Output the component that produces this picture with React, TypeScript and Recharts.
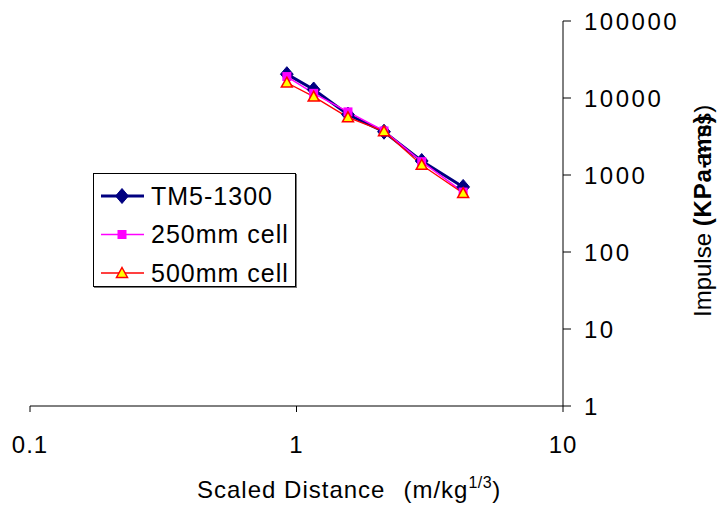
import React from "react";
import { ComposedChart, Line, XAxis, YAxis, Legend } from "recharts";

// scaled distance (m/kg^1/3), shared by all three series
const distance = [0.92, 1.16, 1.56, 2.13, 2.95, 4.22];
const tm5 = [20400, 12900, 6100, 3650, 1520, 700];
const cell250 = [19000, 11500, 6600, 3730, 1490, 600];
const cell500 = [15800, 10400, 5600, 3690, 1350, 580];

const xTicks = [0.1, 1, 10];
const yTicks = [1, 10, 100, 1000, 10000, 100000];

const seriesNames = ["TM5-1300", "250mm cell", "500mm cell"];

const FONT = "'Liberation Sans', Arial, sans-serif";

const data = distance.map((x, i) => ({
  x,
  tm5: tm5[i],
  c250: cell250[i],
  c500: cell500[i],
}));

function Diamond({ cx, cy, size = 7.5 }: { cx: number; cy: number; size?: number }) {
  return (
    <path
      d={`M${cx},${cy - size} L${cx + size * 0.85},${cy} L${cx},${cy + size} L${cx - size * 0.85},${cy} Z`}
      fill="#000080"
      stroke="#000080"
    />
  );
}

function Square({ cx, cy, size = 4.5 }: { cx: number; cy: number; size?: number }) {
  return (
    <rect x={cx - size} y={cy - size} width={size * 2} height={size * 2} fill="#ff00ff" stroke="none" />
  );
}

function Triangle({ cx, cy, size = 5.5 }: { cx: number; cy: number; size?: number }) {
  return (
    <path
      d={`M${cx},${cy - size} L${cx + size},${cy + size * 0.8} L${cx - size},${cy + size * 0.8} Z`}
      fill="#ffff00"
      stroke="#ff0000"
      strokeWidth={1.5}
    />
  );
}

const XTick = ({ x, y, payload }: any) => (
  <text x={x} y={y} dy="0.71em" textAnchor="middle" fontFamily={FONT} fontSize={24} letterSpacing={1} fill="#000">
    {payload.value}
  </text>
);

const YTick = ({ x, y, payload }: any) => (
  <text x={x} y={y} dy="0.355em" textAnchor="start" fontFamily={FONT} fontSize={24} letterSpacing={2.5} fill="#000">
    {payload.value}
  </text>
);

const XLabel = () => (
  <text x={197} y={498} textAnchor="start" fontFamily={FONT} fontSize={24} letterSpacing={1} fill="#000">
    Scaled Distance
    <tspan dx={18}>(m/kg</tspan>
    <tspan dy={-10} fontSize={16} letterSpacing={0.5}>1/3</tspan>
    <tspan dy={10}>)</tspan>
  </text>
);

// the bold units overlap a second copy, as in the source picture
const YLabel = () => (
  <g fontFamily={FONT} fill="#000">
    <text transform="translate(702,317) rotate(-90)" dominantBaseline="central" fontSize={24}>
      Impulse <tspan fontWeight="bold" letterSpacing={0.8}>(KPa-ms)</tspan>
    </text>
    <text transform="translate(702,166) rotate(-90)" dominantBaseline="central" fontSize={24}>
      a-ms)
    </text>
  </g>
);

const markers = [
  (cx: number, cy: number) => <Diamond cx={cx} cy={cy} />,
  (cx: number, cy: number) => <Square cx={cx} cy={cy} />,
  (cx: number, cy: number) => <Triangle cx={cx} cy={cy} />,
];
const lineColors = ["#000080", "#ff00ff", "#ff0000"];

const LegendBox = () => (
  <div
    style={{
      width: 201,
      height: 112,
      border: "1px solid #000",
      boxShadow: "1px 1px 0 #777",
      background: "#fff",
    }}
  >
    <svg width={201} height={112}>
      {seriesNames.map((name, i) => {
        const cy = 22 + i * 38.5;
        return (
          <g key={name}>
            <line x1={7} x2={50} y1={cy} y2={cy} stroke={lineColors[i]} strokeWidth={i === 0 ? 3 : 1.5} />
            {markers[i](28, cy)}
            <text x={57} y={cy} dy="0.355em" fontFamily={FONT} fontSize={25} letterSpacing={1} fill="#000">
              {name}
            </text>
          </g>
        );
      })}
    </svg>
  </div>
);

export default function App() {
  return (
    <div style={{ position: "absolute", left: 0, top: 0, background: "#fff" }}>
      <ComposedChart
        width={720}
        height={513}
        data={data}
        margin={{ top: 21, right: 0, left: 30, bottom: 0 }}
      >
        <XAxis
          dataKey="x"
          type="number"
          scale="log"
          domain={[0.1, 10]}
          ticks={xTicks}
          allowDataOverflow
          height={107}
          stroke="#000"
          tickSize={6}
          tickMargin={24}
          tick={<XTick />}
          label={{ content: () => <XLabel /> }}
        />
        <YAxis
          orientation="right"
          type="number"
          scale="log"
          domain={[1, 100000]}
          ticks={yTicks}
          allowDataOverflow
          width={157}
          stroke="#000"
          tickSize={8}
          tickMargin={13}
          tick={<YTick />}
          label={{ content: () => <YLabel /> }}
        />
        <Legend
          layout="vertical"
          align="center"
          verticalAlign="middle"
          content={() => <LegendBox />}
          wrapperStyle={{ left: 93, top: 173, width: 203, height: 114 }}
        />
        <Line
          dataKey="tm5"
          name={seriesNames[0]}
          stroke="#000080"
          strokeWidth={3}
          isAnimationActive={false}
          dot={(p: any) => <Diamond key={`d${p.index}`} cx={p.cx} cy={p.cy} />}
        />
        <Line
          dataKey="c250"
          name={seriesNames[1]}
          stroke="#ff00ff"
          strokeWidth={1.5}
          isAnimationActive={false}
          dot={(p: any) => <Square key={`s${p.index}`} cx={p.cx} cy={p.cy} />}
        />
        <Line
          dataKey="c500"
          name={seriesNames[2]}
          stroke="#ff0000"
          strokeWidth={1.3}
          isAnimationActive={false}
          dot={(p: any) => <Triangle key={`t${p.index}`} cx={p.cx} cy={p.cy} />}
        />
      </ComposedChart>
    </div>
  );
}
